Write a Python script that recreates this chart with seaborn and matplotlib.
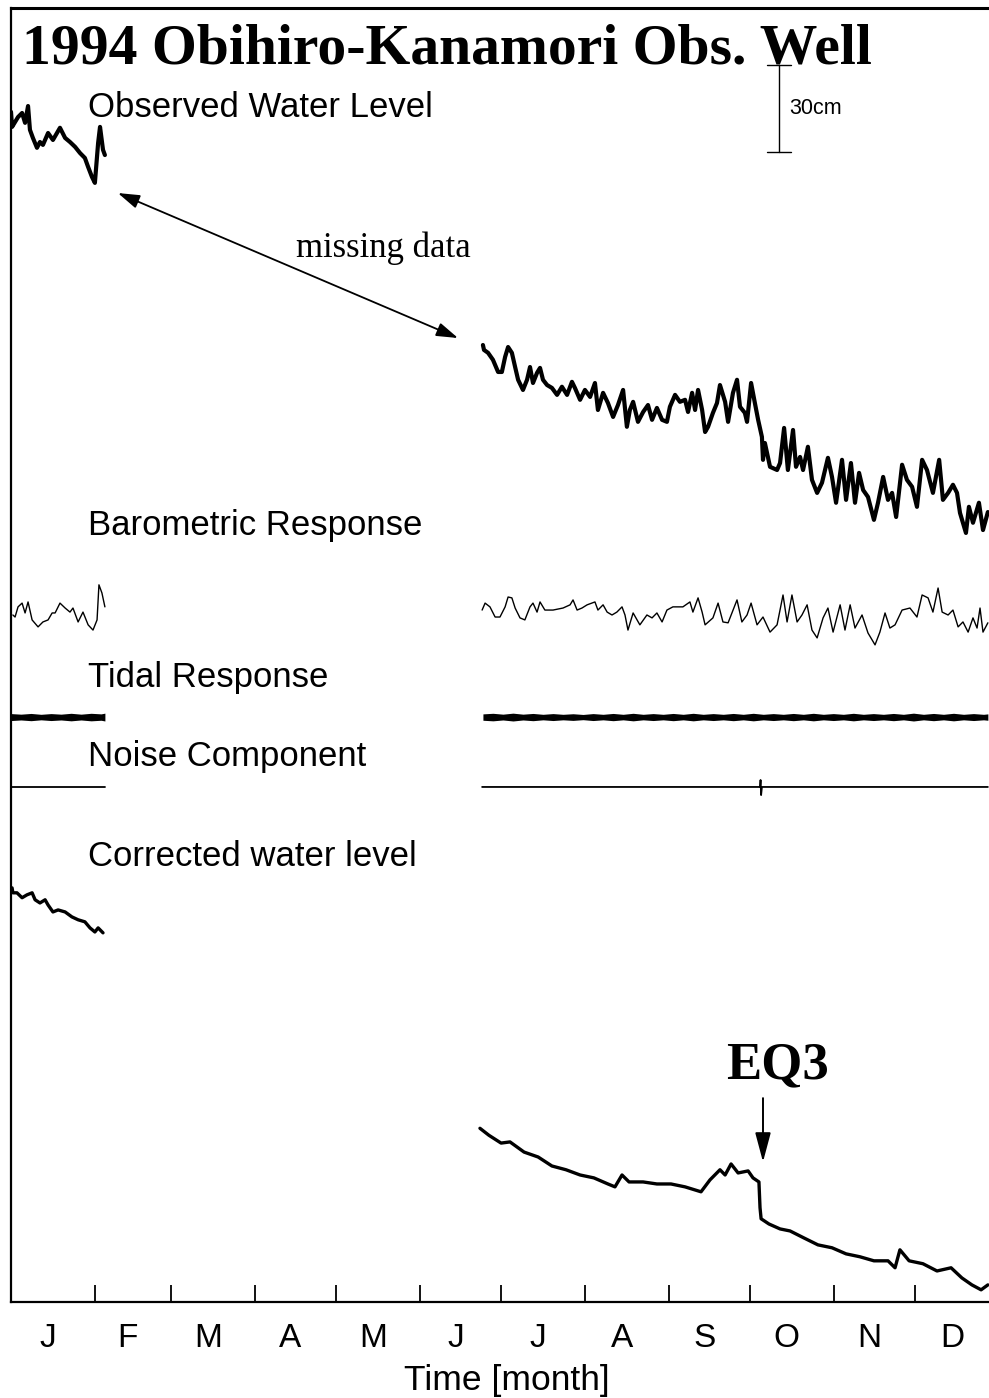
import numpy as np
import pandas as pd
import matplotlib
matplotlib.use("Agg")
import matplotlib.pyplot as plt
import seaborn as sns

# ---------------- data (days of 1994, levels in cm) ----------------
months = ["J", "F", "M", "A", "M", "J", "J", "A", "S", "O", "N", "D"]
month_starts = [0, 31, 59, 90, 120, 151, 181, 212, 243, 273, 304, 334, 365]

obs1_day = [0.0, 0.4, 1.5, 2.6, 4.1, 5.2, 6.3, 7.0, 8.1, 9.6, 10.7, 11.8, 13.7, 15.5,
            18.1, 20.0, 21.8, 23.7, 25.5, 27.3, 28.5, 29.9, 31.0, 32.2, 32.9, 34.0, 34.7]
obs1_val = [5.2, 0.0, 1.7, 3.4, 4.8, 1.4, 7.2, -1.0, -3.8, -7.2, -5.2, -6.2, -2.1, -4.5,
            -0.3, -3.8, -5.2, -6.9, -9.0, -10.7, -13.8, -17.2, -19.3, -5.5, 0.0, -7.9, -9.7]

obs2_day = [174.4, 174.8, 176.3, 178.1, 180.0, 181.4, 182.6, 183.7, 185.1, 186.3, 187.4,
            189.2, 190.7, 191.8, 192.9, 194.4, 195.5, 196.6, 198.1, 199.9, 201.8, 203.6,
            205.5, 207.3, 208.4, 210.3, 212.1, 214.0, 215.8, 216.9, 218.8, 220.6, 222.5,
            224.3, 226.2, 227.6, 228.7, 229.9, 231.7, 233.6, 235.4, 236.9, 238.7, 240.6,
            242.4, 243.5, 245.4, 247.2, 249.1, 250.2, 251.7, 252.8, 253.9, 255.4, 256.5,
            257.6, 259.4, 260.9, 262.0, 263.9, 265.0, 266.8, 268.3, 269.4, 271.2, 272.0,
            273.5, 274.9, 276.1, 277.5, 277.9, 278.6, 280.5, 283.1, 284.2, 285.7, 287.1,
            289.0, 290.1, 291.6, 292.7, 294.5, 296.0, 297.9, 299.7, 301.9, 303.4, 304.9,
            307.1, 308.6, 310.4, 311.9, 313.4, 314.9, 316.7, 318.9, 320.4, 322.3, 324.1,
            325.6, 327.1, 329.3, 331.1, 333.0, 334.8, 336.7, 338.5, 340.7, 343.0, 344.4,
            346.3, 348.1, 349.6, 350.7, 352.9, 354.0, 355.5, 357.7, 359.2, 361.0]
obs2_val = [-75.2, -76.9, -77.9, -80.3, -84.5, -84.5, -79.3, -75.9, -77.9, -82.8, -87.2,
            -90.7, -87.2, -82.8, -88.3, -84.8, -83.1, -87.2, -89.0, -90.0, -92.4, -89.6,
            -92.4, -87.9, -90.0, -94.1, -90.7, -93.1, -88.3, -97.6, -91.7, -95.2, -100.0,
            -95.9, -90.7, -103.4, -97.6, -94.8, -101.7, -98.3, -95.9, -101.0, -96.9, -101.0,
            -101.7, -96.5, -92.4, -94.8, -94.1, -98.3, -91.7, -97.6, -90.7, -97.6, -105.2,
            -103.4, -98.6, -95.2, -89.0, -94.8, -101.7, -91.7, -87.2, -96.5, -98.6, -101.7,
            -88.3, -95.2, -101.0, -106.9, -114.8, -109.0, -117.2, -118.3, -115.9, -103.8, -118.3,
            -104.5, -117.2, -113.8, -118.3, -110.3, -121.7, -126.2, -122.7, -114.1, -120.7, -129.6,
            -114.8, -128.6, -115.9, -129.6, -119.3, -125.2, -127.6, -135.5, -129.6, -120.7, -128.6,
            -126.2, -134.5, -116.5, -121.7, -124.1, -131.0, -114.8, -118.3, -126.2, -114.8, -128.6,
            -126.2, -123.4, -126.2, -133.1, -140.0, -131.0, -136.5, -129.6, -139.0, -132.8]

baro1_day = [0.7, 1.5, 2.6, 4.1, 5.2, 6.3, 7.8, 10.0, 11.8, 13.7, 15.2, 16.3, 18.1, 20.0,
             21.8, 22.9, 24.8, 26.6, 28.5, 30.3, 31.8, 32.5, 33.6, 34.7]
baro1_val = [-0.7, -1.4, 2.1, 3.4, 0.0, 3.8, -2.4, -4.8, -3.1, -2.4, 0.0, 0.0, 3.4, 1.7,
             0.3, 1.7, -3.1, 0.3, -4.1, -5.9, -2.4, 9.7, 6.9, 2.1]

baro2_day = [174.1, 175.2, 177.0, 178.9, 180.7, 182.6, 183.7, 185.1, 186.3, 188.1, 189.9,
             191.8, 192.9, 194.4, 195.5, 197.3, 200.3, 204.0, 206.6, 207.7, 209.2, 211.0,
             212.9, 215.8, 216.9, 218.8, 220.3, 222.1, 223.9, 225.8, 226.9, 228.0, 229.9,
             232.4, 235.0, 236.9, 238.7, 240.6, 242.4, 244.6, 248.3, 250.9, 252.0, 253.9,
             255.4, 256.5, 259.4, 261.3, 263.1, 265.0, 268.3, 270.1, 272.0, 273.5, 275.7,
             277.9, 280.5, 283.1, 285.3, 286.8, 288.6, 290.5, 292.3, 294.2, 296.0, 297.9,
             300.1, 301.9, 303.8, 306.4, 308.2, 310.1, 311.9, 314.5, 316.7, 319.3, 321.1,
             323.0, 324.8, 326.7, 329.3, 332.2, 334.8, 336.7, 338.9, 340.7, 342.6, 344.1,
             346.3, 348.1, 350.0, 351.8, 353.7, 355.5, 357.0, 358.1, 359.2, 361.0]
baro2_val = [1.0, 3.4, 2.1, -1.4, -1.4, 2.1, 5.5, 5.2, 1.7, -1.7, -2.4,
             2.1, 3.4, 0.3, 3.8, 1.0, 1.0, 1.7, 2.8, 4.5, 1.0, 1.7,
             2.8, 3.8, 1.0, 2.8, 0.3, -0.7, 0.3, 2.1, -0.7, -5.9, 0.0,
             -4.1, -0.7, -1.7, 0.0, -3.1, 1.0, 2.1, 2.1, 3.8, 0.3, 5.2,
             0.3, -4.1, -1.7, 3.4, -3.1, -3.4, 4.5, -3.1, -0.7, 3.4, -4.1,
             -1.4, -6.6, -4.1, 6.2, -3.1, 6.2, -3.1, -0.7, 2.8, -5.9, -8.6,
             -1.7, 1.7, -6.6, 2.8, -5.9, 2.8, -5.2, -0.7, -6.9, -11.0, -6.6,
             0.0, -5.2, -4.1, 1.0, 1.7, -1.4, 6.2, 5.2, 0.3, 8.6, 0.3,
             -0.7, 1.0, -4.8, -3.1, -6.6, -1.7, -5.2, 1.7, -6.6, -3.4]

# tidal response: half-amplitude of the semidiurnal band (cm)
tide1_day = [0.0, 3.7, 7.4, 11.1, 14.8, 18.5, 22.2, 25.9, 29.6, 33.3, 34.7]
tide1_amp = [1.2, 1.0, 1.25, 0.95, 1.2, 1.0, 1.3, 1.0, 1.3, 1.1, 1.35]
tide2_day = [174.4, 178.1, 181.8, 185.5, 189.2, 192.9, 196.6, 200.3, 204.0, 207.7, 211.4,
             215.1, 218.8, 222.5, 226.2, 229.9, 233.6, 237.3, 241.0, 244.7, 248.4, 252.1,
             255.8, 259.5, 263.2, 266.9, 270.6, 274.3, 278.0, 281.7, 285.4, 289.1, 292.8,
             296.5, 300.2, 303.9, 307.6, 311.3, 315.0, 318.7, 322.4, 326.1, 329.8, 333.5,
             337.2, 340.9, 344.6, 348.3, 352.0, 355.7, 359.4, 361.0]
tide2_amp = [1.1, 1.3, 1.0, 1.35, 1.0, 1.25, 0.95, 1.2, 0.95, 1.15, 0.9, 1.2, 0.95, 1.25, 0.95,
             1.3, 0.95, 1.2, 0.95, 1.25, 0.95, 1.3, 0.95, 1.2, 0.95, 1.25, 0.95, 1.3, 0.95, 1.2,
             0.95, 1.25, 0.95, 1.3, 0.95, 1.2, 0.95, 1.3, 0.95, 1.2, 0.95, 1.25, 0.95, 1.35, 0.95,
             1.25, 0.95, 1.3, 0.95, 1.2, 0.95, 1.1]

noise1_day = [0.4, 10.0, 20.0, 30.0, 34.7]
noise1_val = [0.0, 0.0, 0.0, 0.0, 0.0]
noise2_day = [174.1, 220.0, 276.8, 277.0, 277.2, 277.5, 320.0, 361.0]
noise2_val = [0.0, 0.0, 0.0, 2.4, -2.8, 0.0, 0.0, 0.0]

corr1_day = [0.4, 0.7, 2.2, 4.1, 5.9, 7.8, 8.9, 10.7, 12.6, 13.7, 15.5, 17.4, 20.0, 22.5,
             24.8, 27.3, 29.2, 31.0, 32.2, 34.0]
corr1_val = [0.0, -1.7, -1.7, -3.4, -2.4, -1.7, -4.1, -5.2, -4.1, -5.9, -8.3, -7.6, -8.3,
             -10.0, -11.0, -11.7, -13.8, -15.2, -13.8, -15.5]
corr2_day = [173.3, 176.6, 181.1, 184.4, 189.6, 194.8, 199.9, 205.1, 210.3, 215.4, 220.6,
             223.2, 225.8, 228.4, 233.6, 238.7, 243.9, 249.1, 255.0, 258.3, 262.0, 263.9,
             266.1, 268.7, 272.4, 274.2, 276.4, 276.8, 277.2, 280.1, 284.2, 287.9, 293.0,
             298.2, 303.4, 308.6, 313.7, 318.9, 324.1, 326.7, 328.5, 331.9, 337.0, 342.2,
             347.4, 351.4, 355.1, 358.5, 361.0]
corr2_val = [-82.9, -85.3, -88.0, -87.6, -91.1, -92.8, -95.9, -97.2, -99.0, -100.0, -102.1,
             -103.1, -99.0, -101.4, -101.4, -102.1, -102.1, -103.1, -104.8, -100.7, -97.2, -99.0,
             -95.2, -98.3, -97.6, -100.0, -101.4, -110.3, -114.1, -115.9, -117.6, -118.3, -120.7,
             -123.1, -124.1, -126.2, -127.2, -128.6, -128.6, -131.0, -124.8, -128.6, -129.6, -132.1,
             -131.0, -134.5, -136.9, -138.6, -136.9]

eq3_day = 277.9
scale_bar_cm = 30

# ---------------- layout ----------------
W, H = 989, 1398
sns.set_theme(style="white")
plt.rcParams["font.family"] = ["Liberation Sans", "DejaVu Sans"]
plt.rcParams["text.color"] = "black"
plt.rcParams["axes.labelcolor"] = "black"
plt.rcParams["xtick.color"] = "black"

fig = plt.figure(figsize=(W / 100, H / 100), dpi=100)
ax_l, ax_r, ax_b, ax_t = 11, 989, 1302, 8
ax = fig.add_axes([ax_l / W, 1 - ax_b / H, (ax_r - ax_l) / W, (ax_b - ax_t) / H])
px_per_day = 2.706
px_per_cm = 2.9
ax.set_xlim(0, (ax_r - ax_l) / px_per_day)
ax.set_ylim(0, (ax_b - ax_t) / px_per_cm)

off_obs, off_baro, off_tide, off_noise, off_corr = 405.2, 237.6, 201.7, 177.6, 142.8


def trace(days, vals, off, lw):
    df = pd.DataFrame({"day": days, "lvl": np.asarray(vals) + off})
    sns.lineplot(data=df, x="day", y="lvl", ax=ax, color="black", linewidth=lw,
                 estimator=None, sort=False, legend=False)


trace(obs1_day, obs1_val, off_obs, 3.0)
trace(obs2_day, obs2_val, off_obs, 3.0)
trace(baro1_day, baro1_val, off_baro, 1.0)
trace(baro2_day, baro2_val, off_baro, 1.0)
for d, a in ((tide1_day, tide1_amp), (tide2_day, tide2_amp)):
    a = np.asarray(a)
    ax.fill_between(d, off_tide - a, off_tide + a, color="black", linewidth=0)
trace(noise1_day, noise1_val, off_noise, 1.3)
trace(noise2_day, noise2_val, off_noise, 1.3)
trace(corr1_day, corr1_val, off_corr, 2.4)
trace(corr2_day, corr2_val, off_corr, 2.4)

# axes styling
ax.spines["right"].set_visible(False)
ax.spines["left"].set_linewidth(1.6)
ax.spines["bottom"].set_linewidth(1.6)
ax.spines["top"].set_linewidth(2.2)
for s in ("left", "bottom", "top"):
    ax.spines[s].set_color("black")
ax.set_yticks([])
ax.set_xticks(month_starts[1:-1])
ax.set_xticklabels([])
ax.tick_params(axis="x", which="major", direction="in", length=12, width=1.3,
               color="black", bottom=True)
mids = [(month_starts[i] + month_starts[i + 1]) / 2 - 1.8 for i in range(12)]
ax.set_xticks(mids, minor=True)
ax.set_xticklabels(months, minor=True, fontsize=24, color="black")
ax.tick_params(axis="x", which="minor", length=0, pad=15)
ax.set_xlabel("")
ax.set_ylabel("")


def fx(x):
    return x / W


def fy(y):
    return 1 - y / H


# texts
fig.text(fx(22), fy(63), "1994 Obihiro-Kanamori Obs. Well", family="Liberation Serif",
         fontweight="bold", fontsize=41.5, va="baseline", ha="left")
lab_kw = dict(fontsize=25, va="baseline", ha="left")
fig.text(fx(88), fy(117), "Observed Water Level", **lab_kw)
fig.text(fx(88), fy(535), "Barometric Response", **lab_kw)
fig.text(fx(88), fy(687), "Tidal Response", **lab_kw)
fig.text(fx(88), fy(766), "Noise Component", **lab_kw)
fig.text(fx(88), fy(866), "Corrected water level", **lab_kw)
fig.text(fx(507), fy(1390), "Time [month]", fontsize=25.5, ha="center", va="baseline")
fig.text(fx(296), fy(257), "missing data", family="Liberation Serif", fontsize=25,
         ha="left", va="baseline")
fig.text(fx(777), fy(1078), "EQ3", family="Liberation Serif", fontweight="bold",
         fontsize=38, ha="center", va="baseline")

# scale bar (30 cm)
sb_day = 283.8
sb_bot = 396.6
ax.plot([sb_day, sb_day], [sb_bot, sb_bot + scale_bar_cm], color="black", lw=1.0)
ax.plot([sb_day - 4.4, sb_day + 4.4], [sb_bot, sb_bot], color="black", lw=1.0)
ax.plot([sb_day - 4.4, sb_day + 4.4], [sb_bot + scale_bar_cm] * 2, color="black", lw=1.0)
ax.text(sb_day + 3.8, sb_bot + scale_bar_cm / 2, f"{scale_bar_cm}cm", fontsize=15.5,
        va="center", ha="left")

# missing-data double arrow
ax.annotate("", xy=(165.2, 332.4), xytext=(39.5, 382.4),
            arrowprops=dict(arrowstyle="<|-|>,head_length=1.1,head_width=0.35",
                            color="black", lw=1.3, shrinkA=0, shrinkB=0))
# EQ3 arrow
ax.annotate("", xy=(eq3_day, 48.3), xytext=(eq3_day, 70.3),
            arrowprops=dict(arrowstyle="-|>,head_length=1.5,head_width=0.4",
                            color="black", lw=1.4, shrinkA=0, shrinkB=0))

fig.savefig("out.png", dpi=100, facecolor="white")
